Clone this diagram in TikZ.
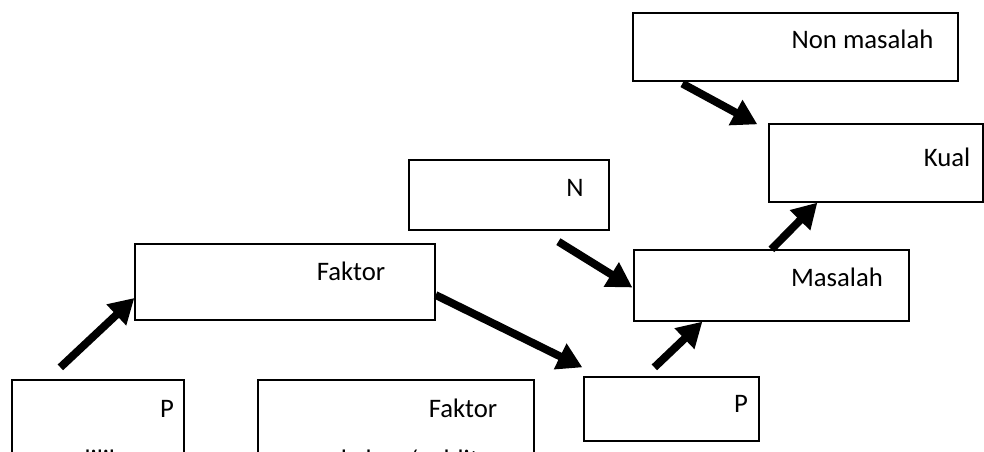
\documentclass[tikz,border=0pt]{standalone}
\usepackage{fontspec}
\setmainfont{Carlito}
\usetikzlibrary{arrows.meta,calc}
\newlength{\px}\setlength{\px}{0.025cm}

\begin{document}
\begin{tikzpicture}[x=\px,y=-\px,font=\fontsize{19}{22}\selectfont,
  >={Triangle[length=0.62cm,width=0.68cm]},
  b/.style={draw,line width=0.9pt,inner sep=0pt},
  t/.style={anchor=base,inner sep=0pt},
  a/.style={->,line width=5.6pt}]
  \useasboundingbox (0,0) rectangle (984,452);
  \clip (0,0) rectangle (984,452);
  % boxes
  \node[b,minimum width=325\px,minimum height=68\px] (non) at (795.5,47) {};
  \node[b,minimum width=214\px,minimum height=78\px] (kual) at (876,163) {};
  \node[b,minimum width=200\px,minimum height=70\px] (n) at (509,195) {};
  \node[b,minimum width=300\px,minimum height=76\px] (fak) at (285,282) {};
  \node[b,minimum width=275\px,minimum height=71\px] (mas) at (771.5,285.5) {};
  \node[b,minimum width=175\px,minimum height=64\px] (pr) at (671.5,409) {};
  \node[b,minimum width=172\px,minimum height=160\px] (pl) at (98,460) {};
  \node[b,minimum width=276\px,minimum height=160\px] (fb) at (396,460) {};
  % texts
  \node[t] (tnon) at (862.5,49) {Non masalah};
  \node[t] (tkual) at (947,167) {Kual};
  \node[t] (tn) at (575,197) {N};
  \node[t] (tfak) at (351,280) {Faktor};
  \node[t] (tmas) at (837,286) {Masalah};
  \node[t] (tpr) at (741,412) {P};
  \node[t] (tpl) at (167,417) {P};
  \node[t] (tfb) at (463,417) {Faktor};
  \node[t] (tpl2) at (99,468) {dilik};
  \node[t] (tfb2) at (410,468) {kahan/ addit};
  % arrows
  \draw[a] ($(pl.north west)+(49,-12)$) -- ($(fak.west)+(0,16)$);
  \draw[a] ($(fak.east)+(0,13)$) -- ($(pr.north west)+(-1,-9)$);
  \draw[a] ($(pr.north west)+(71,-9)$) -- ($(mas.south west)+(69,0)$);
  \draw[a] ($(n.south west)+(150,11)$) -- ($(mas.west)+(-1,2)$);
  \draw[a] ($(mas.north west)+(138,0)$) -- ($(kual.south west)+(49,0)$);
  \draw[a] ($(non.south west)+(50,2)$) -- ($(kual.north west)+(-11,1)$);
\end{tikzpicture}
\end{document}
